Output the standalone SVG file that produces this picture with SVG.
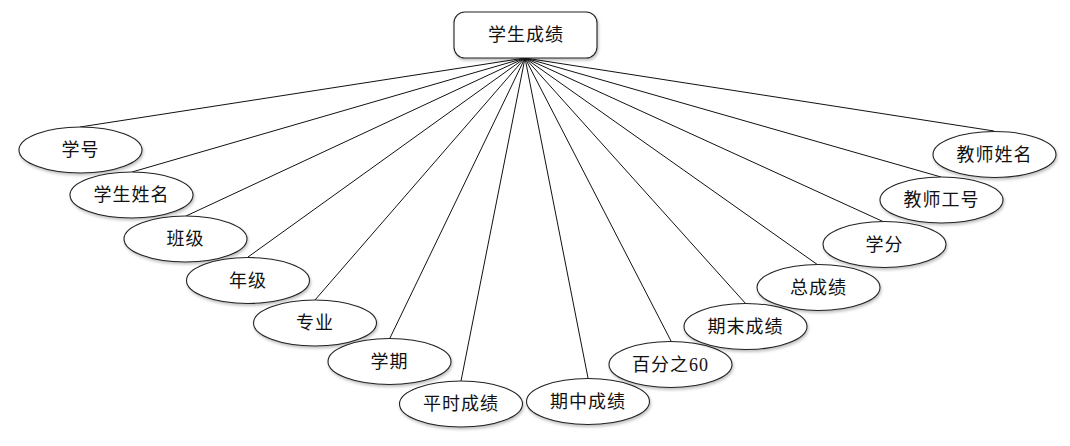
<svg xmlns="http://www.w3.org/2000/svg" width="1070" height="446" viewBox="0 0 1070 446">
<style>
.n{fill:#fff;stroke:#222;stroke-width:1.1}
.t{font-family:"Liberation Serif","Noto Sans CJK SC",serif;font-size:18px;fill:#111;text-anchor:middle;dominant-baseline:central;letter-spacing:1px}
.c line{stroke:#111;stroke-width:1}
</style>
<defs>
<filter id="sh" x="-20%" y="-30%" width="140%" height="160%">
<feGaussianBlur in="SourceAlpha" stdDeviation="1.5"/>
<feOffset dx="1" dy="2"/>
<feComponentTransfer><feFuncA type="linear" slope="0.25"/></feComponentTransfer>
<feMerge><feMergeNode/><feMergeNode in="SourceGraphic"/></feMerge>
</filter>
</defs>
<g class="c" id="connectors">
<line x1="525" y1="58" x2="80" y2="127"/>
<line x1="525" y1="58" x2="132" y2="172"/>
<line x1="525" y1="58" x2="186" y2="216"/>
<line x1="525" y1="58" x2="248" y2="257"/>
<line x1="525" y1="58" x2="315" y2="300"/>
<line x1="525" y1="58" x2="390" y2="338"/>
<line x1="525" y1="58" x2="461" y2="381"/>
<line x1="525" y1="58" x2="588" y2="378"/>
<line x1="525" y1="58" x2="671" y2="341"/>
<line x1="525" y1="58" x2="746" y2="304"/>
<line x1="525" y1="58" x2="818" y2="265"/>
<line x1="525" y1="58" x2="884" y2="222"/>
<line x1="525" y1="58" x2="941" y2="177"/>
<line x1="525" y1="58" x2="994" y2="131"/>
</g>
<g id="root"><rect class="n" x="454" y="12" width="143" height="46" rx="11" filter="url(#sh)"/><text class="t" x="526" y="35">学生成绩</text></g>
<g id="n1"><ellipse class="n" cx="80.5" cy="150" rx="61.5" ry="23" filter="url(#sh)"/><text class="t" x="80.5" y="150">学号</text></g>
<g id="n2"><ellipse class="n" cx="131.5" cy="195" rx="61.5" ry="23" filter="url(#sh)"/><text class="t" x="131.5" y="195">学生姓名</text></g>
<g id="n3"><ellipse class="n" cx="185.5" cy="239" rx="61.5" ry="23" filter="url(#sh)"/><text class="t" x="185.5" y="239">班级</text></g>
<g id="n4"><ellipse class="n" cx="248" cy="280.5" rx="61.5" ry="23" filter="url(#sh)"/><text class="t" x="248" y="280.5">年级</text></g>
<g id="n5"><ellipse class="n" cx="315" cy="323" rx="61.5" ry="23" filter="url(#sh)"/><text class="t" x="315" y="323">专业</text></g>
<g id="n6"><ellipse class="n" cx="389.5" cy="361.5" rx="61.5" ry="23" filter="url(#sh)"/><text class="t" x="389.5" y="361.5">学期</text></g>
<g id="n7"><ellipse class="n" cx="461" cy="404" rx="61.5" ry="23" filter="url(#sh)"/><text class="t" x="461" y="404">平时成绩</text></g>
<g id="n8"><ellipse class="n" cx="588" cy="401.5" rx="61.5" ry="23" filter="url(#sh)"/><text class="t" x="588" y="401.5">期中成绩</text></g>
<g id="n9"><ellipse class="n" cx="670.5" cy="364.5" rx="61.5" ry="23" filter="url(#sh)"/><text class="t" x="670.5" y="364.5">百分之60</text></g>
<g id="n10"><ellipse class="n" cx="745.5" cy="326.5" rx="61.5" ry="23" filter="url(#sh)"/><text class="t" x="745.5" y="326.5">期末成绩</text></g>
<g id="n11"><ellipse class="n" cx="818.5" cy="287.5" rx="61.5" ry="23" filter="url(#sh)"/><text class="t" x="818.5" y="287.5">总成绩</text></g>
<g id="n12"><ellipse class="n" cx="884.5" cy="244.5" rx="61.5" ry="23" filter="url(#sh)"/><text class="t" x="884.5" y="244.5">学分</text></g>
<g id="n13"><ellipse class="n" cx="941.5" cy="200" rx="61.5" ry="23" filter="url(#sh)"/><text class="t" x="941.5" y="200">教师工号</text></g>
<g id="n14"><ellipse class="n" cx="994.5" cy="154.5" rx="61.5" ry="23" filter="url(#sh)"/><text class="t" x="994.5" y="154.5">教师姓名</text></g>
</svg>
